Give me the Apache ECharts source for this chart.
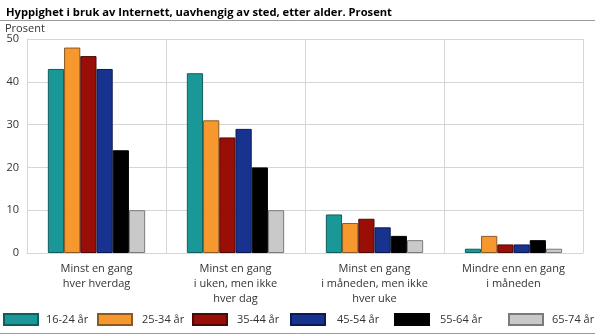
<!DOCTYPE html>
<html>
<head>
<meta charset="utf-8">
<script src="https://cdn.jsdelivr.net/npm/echarts@6/dist/echarts.min.js"></script>
<style>
  html, body { margin: 0; padding: 0; background: #fff; }
  #chart { width: 595px; height: 335px; }
</style>
</head>
<body>
<div id="chart"></div>
<script>
// Frequency of Internet use by age group (percent)
const categories = [
  'Minst en gang\nhver hverdag',
  'Minst en gang\ni uken, men ikke\nhver dag',
  'Minst en gang\ni måneden, men ikke\nhver uke',
  'Mindre enn en gang\ni måneden'
];
const ageGroups = ['16-24 år', '25-34 år', '35-44 år', '45-54 år', '55-64 år', '65-74 år'];
const values16_24 = [43, 42, 9, 1];
const values25_34 = [48, 31, 7, 4];
const values35_44 = [46, 27, 8, 2];
const values45_54 = [43, 29, 6, 2];
const values55_64 = [24, 20, 4, 3];
const values65_74 = [10, 10, 3, 1];
const yTicks = [0, 10, 20, 30, 40, 50];

const seriesValues = [values16_24, values25_34, values35_44, values45_54, values55_64, values65_74];
const fills   = ['#1a9898', '#f7982f', '#990f08', '#183290', '#000000', '#c9c9c9'];
const borders = ['#0f5e5e', '#8a5a24', '#4a0a05', '#0c1a52', '#000000', '#7a7a7a'];

const FONT = 'Open Sans';
// legend item positions and the gap from swatch to label
const legendLefts = [3, 97, 192, 290, 394, 508];
const legendTextGaps = [3, 5, 5, 7, 6, 4];

const chart = echarts.init(document.getElementById('chart'), null, { renderer: 'canvas' });

chart.setOption({
  animation: false,
  textStyle: { fontFamily: FONT },
  title: {
    text: 'Hyppighet i bruk av Internett, uavhengig av sted, etter alder. Prosent',
    left: 1, top: 2,
    textStyle: { fontFamily: FONT, fontSize: 11.2, fontWeight: 'bold', color: '#000' }
  },
  graphic: [
    { type: 'line', shape: { x1: 0, y1: 20.5, x2: 595, y2: 20.5 }, style: { stroke: '#9a9a9a', lineWidth: 1 } },
    { type: 'line', shape: { x1: 0, y1: 333.5, x2: 595, y2: 333.5 }, style: { stroke: '#9a9a9a', lineWidth: 1 } },
    { type: 'text', left: 5, top: 23.5, style: { text: 'Prosent', fontFamily: FONT, fontSize: 11, fill: '#333' } }
  ],
  legend: ageGroups.map((name, i) => ({
    data: [name],
    left: legendLefts[i],
    top: 313,
    padding: 0,
    itemWidth: 34,
    itemHeight: 11,
    icon: 'rect',
    selectedMode: false,
    textStyle: { fontFamily: FONT, fontSize: 11, color: '#333', padding: [0, 0, 0, legendTextGaps[i]] }
  })),
  grid: { left: 27, right: 12, top: 39, bottom: 82, containLabel: false },
  xAxis: {
    type: 'category',
    data: categories,
    axisLine: { show: true, lineStyle: { color: '#d6d6d6' } },
    axisTick: { show: false },
    splitLine: { show: true, lineStyle: { color: '#d6d6d6', width: 1 } },
    axisLabel: {
      interval: 0, margin: 8,
      fontFamily: FONT, fontSize: 11, color: '#333', lineHeight: 15, align: 'center'
    }
  },
  yAxis: {
    type: 'value',
    min: yTicks[0], max: yTicks[yTicks.length - 1], interval: 10,
    axisLine: { show: true, lineStyle: { color: '#d6d6d6' } },
    axisTick: { show: false },
    splitLine: { show: true, lineStyle: { color: '#d6d6d6', width: 1 } },
    axisLabel: { margin: 8, fontFamily: FONT, fontSize: 11, color: '#333' }
  },
  series: ageGroups.map((name, i) => ({
    name: name,
    type: 'bar',
    data: seriesValues[i],
    barGap: '0%',
    barCategoryGap: '30%',
    itemStyle: { color: fills[i], borderColor: borders[i], borderWidth: 1 }
  }))
});
</script>
</body>
</html>
